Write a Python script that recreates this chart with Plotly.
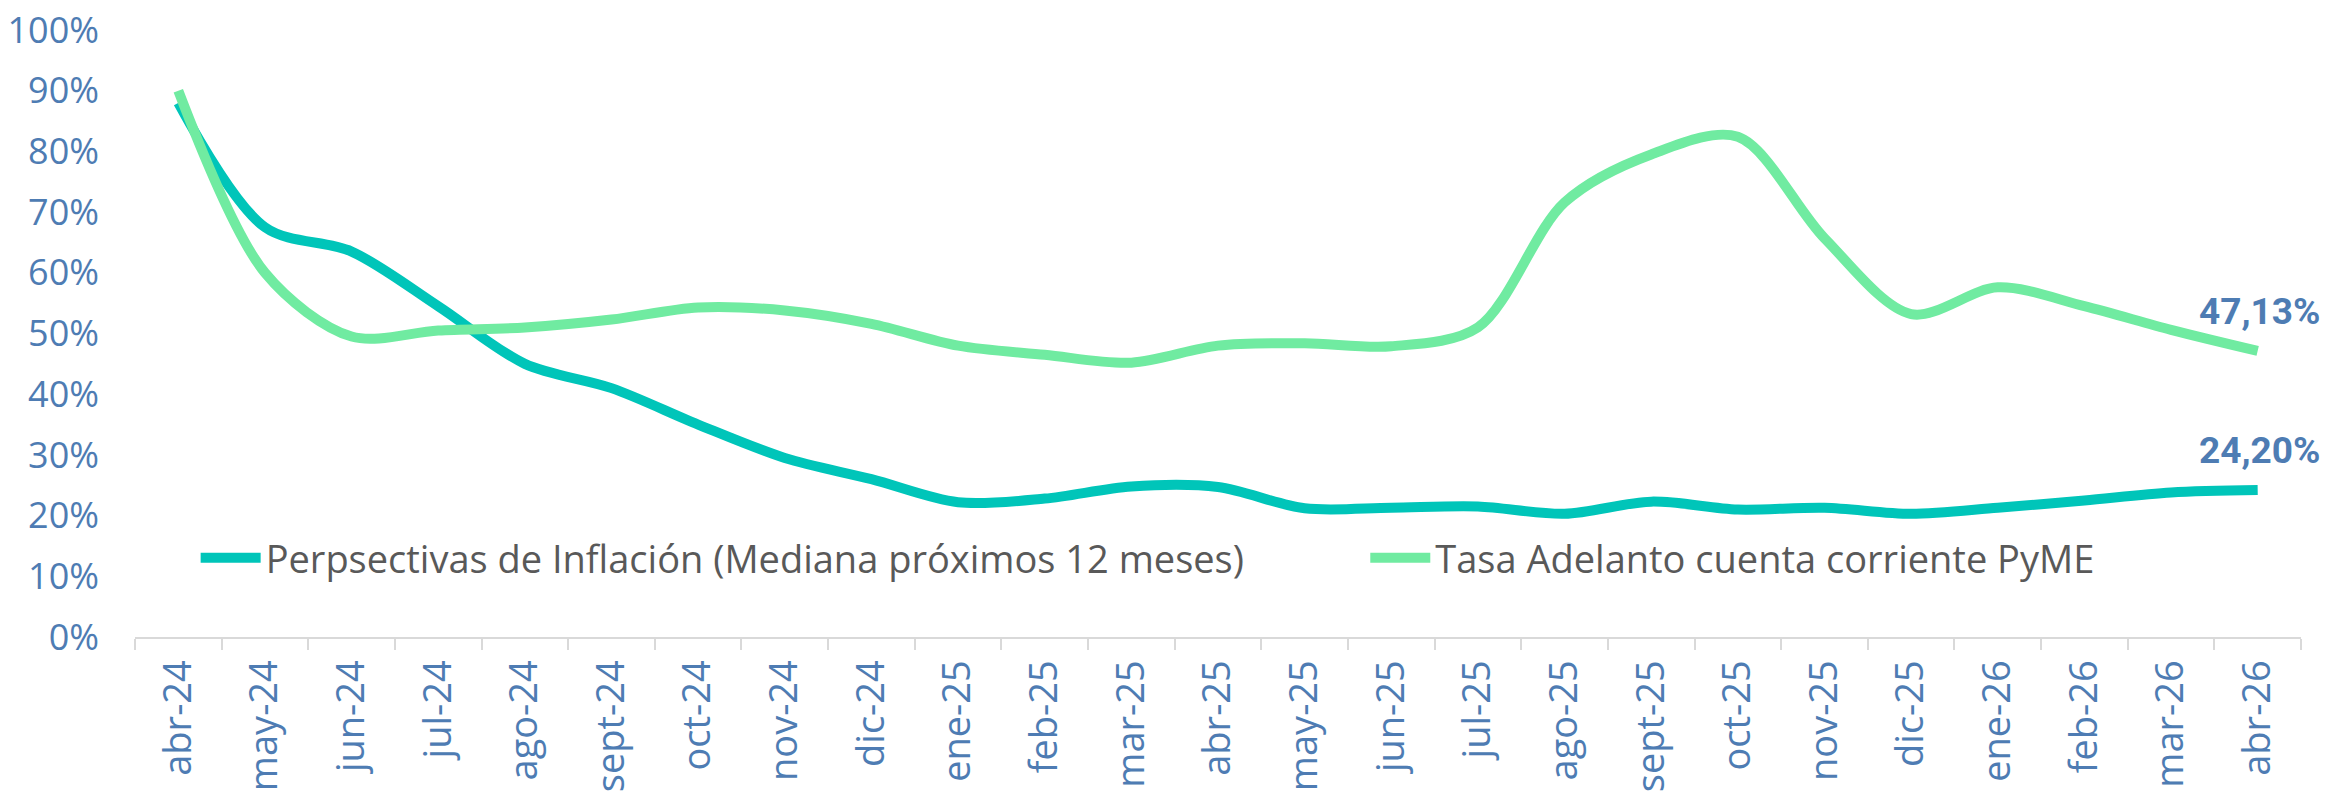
import plotly.graph_objects as go

categories = ["abr-24", "may-24", "jun-24", "jul-24", "ago-24", "sept-24", "oct-24", "nov-24",
              "dic-24", "ene-25", "feb-25", "mar-25", "abr-25", "may-25", "jun-25", "jul-25",
              "ago-25", "sept-25", "oct-25", "nov-25", "dic-25", "ene-26", "feb-26", "mar-26", "abr-26"]

inflacion = [0.88, 0.675, 0.635, 0.545, 0.45, 0.41, 0.35, 0.295, 0.26, 0.222, 0.228, 0.248,
             0.247, 0.212, 0.213, 0.215, 0.203, 0.223, 0.21, 0.213, 0.203, 0.213, 0.225, 0.238, 0.242]

tasa = [0.90, 0.60, 0.495, 0.505, 0.51, 0.523, 0.543, 0.538, 0.516, 0.48, 0.465, 0.452,
        0.48, 0.484, 0.479, 0.51, 0.716, 0.795, 0.824, 0.657, 0.532, 0.576, 0.545, 0.506, 0.4713]

series_names = ["Perpsectivas de Inflación (Mediana próximos 12 meses)",
                "Tasa Adelanto cuenta corriente PyME"]
series_colors = ["#00C5B9", "#70EBA1"]
series_legends = ["legend", "legend2"]
end_labels = ["24,20%", "47,13%"]

ytick_vals = [i / 10 for i in range(11)]
ytick_text = [f"{i * 10}%" for i in range(11)]

label_color = "#4E7CB3"
legend_font = dict(family="Open Sans", size=38, color="#595959")

fig = go.Figure()
for name, vals, col, lg in zip(series_names, [inflacion, tasa], series_colors, series_legends):
    fig.add_trace(go.Scatter(
        x=categories, y=vals, name=name, mode="lines", legend=lg,
        line=dict(color=col, width=10, shape="spline", smoothing=0.9),
    ))

for vals, txt in zip([inflacion, tasa], end_labels):
    fig.add_annotation(
        x=categories[-1], y=vals[-1], text=f"<b>{txt}</b>", showarrow=False,
        xanchor="center", yanchor="bottom", xshift=2, yshift=16,
        font=dict(family="Roboto", size=37, color=label_color),
    )

fig.update_layout(
    width=2322, height=787,
    margin=dict(l=127, r=29, t=22, b=158, autoexpand=False),
    paper_bgcolor="white", plot_bgcolor="white",
    font=dict(family="Open Sans", size=36, color=label_color),
    showlegend=True,
    legend=dict(
        orientation="h", x=0.028, xanchor="left", y=0.13, yanchor="middle",
        font=legend_font, bgcolor="rgba(0,0,0,0)", itemwidth=60,
    ),
    legend2=dict(
        orientation="h", x=0.568, xanchor="left", y=0.13, yanchor="middle",
        font=legend_font, bgcolor="rgba(0,0,0,0)", itemwidth=60,
    ),
    xaxis=dict(
        type="category", tickangle=-90, showgrid=False, automargin=False,
        showline=True, linecolor="#D9D9D9", linewidth=2,
        ticks="outside", tickson="boundaries", ticklen=11, tickcolor="#D9D9D9", tickwidth=2,
        tickfont=dict(family="Open Sans", size=38, color=label_color),
        ticklabelstandoff=6,
        range=[-0.5, len(categories) - 0.5],
    ),
    yaxis=dict(
        range=[0, 1.0], tickvals=ytick_vals, ticktext=ytick_text, automargin=False,
        showgrid=False, zeroline=False, showline=False,
        tickfont=dict(family="Open Sans", size=36, color=label_color),
        ticklabelstandoff=35, ticklabeloverflow="allow",
    ),
)

fig.write_html("out.html")
